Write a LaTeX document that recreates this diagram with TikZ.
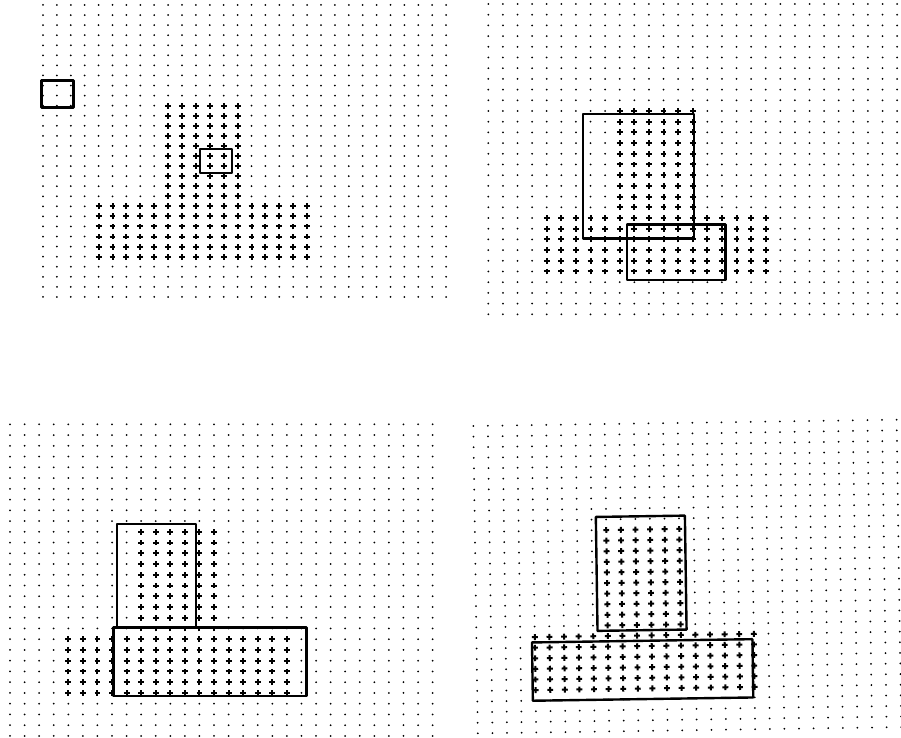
\documentclass[tikz,border=0pt]{standalone}
\usetikzlibrary{calc}

\tikzset{
  griddot/.style={fill=black},
  crossmark/.style={draw=black, line width=1.5pt},
  outline/.style={draw=black, line width=1.8pt, line join=round},
}

% one dot field: columns 0..#1, rows 0..29, crosses on the inverted T
\newcommand{\drawfield}[1]{%
  \foreach \c in {0,...,#1}{
    \foreach \r in {0,...,29}{
      \pgfmathtruncatemacro{\incross}{(\c>8)*(\c<15)*(\r>9)*(\r<20) + (\c>3)*(\c<20)*(\r>19)*(\r<26)}
      \ifnum\incross>0
        \draw[crossmark] (\c,\r) +(-2.2pt,0pt) -- +(2.2pt,0pt) +(0pt,-2.2pt) -- +(0pt,2.2pt);
      \else
        \fill[griddot] (\c,\r) circle (0.75pt);
      \fi
    }
  }%
}

\begin{document}
\begin{tikzpicture}[x=0.75pt, y=-0.75pt]
  \useasboundingbox (0,0) rectangle (901,738);

  % top left
  \begin{scope}[shift={(43,5)}, x=10.425pt, y=-7.55pt]
    \drawfield{29}
    \draw[outline] (-0.1,7.5) rectangle (2.2,10.2);
    \draw[outline] (11.3,14.3) rectangle (13.6,16.7);
  \end{scope}

  % top right
  \begin{scope}[shift={(488.3,4)}, x=10.95pt, y=-8.025pt]
    \drawfield{28}
    \draw[outline] (6.5,10.3) rectangle (14.1,21.9);
    \draw[outline] (9.5,20.6) rectangle (16.25,25.8);
  \end{scope}

  % bottom left
  \begin{scope}[shift={(10,424.3)}, x=10.93pt, y=-8.06pt]
    \drawfield{29}
    \draw[outline] (7.35,9.3) rectangle (12.75,18.9);
    \draw[outline] (7.1,18.9) rectangle (20.35,25.3);
  \end{scope}

  % bottom right, drawn slightly tilted
  \begin{scope}[shift={(473.3,426)}, rotate=0.85, x=10.95pt, y=-7.95pt]
    \drawfield{29}
    \draw[outline] (8.3,8.75) rectangle (14.4,19.5);
    \draw[outline] (3.8,20.5) rectangle (18.9,26.0);
  \end{scope}
\end{tikzpicture}
\end{document}
